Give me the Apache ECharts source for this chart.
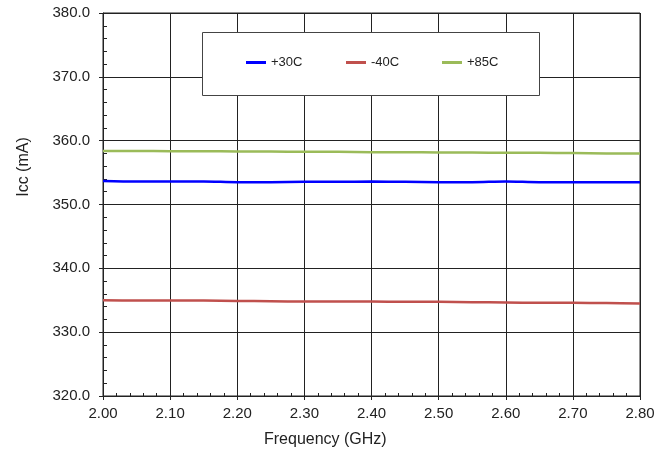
<!DOCTYPE html>
<html><head><meta charset="utf-8">
<script src="https://cdn.jsdelivr.net/npm/echarts@6/dist/echarts.min.js"></script>
<style>html,body{margin:0;padding:0;background:#fff}#c{width:668px;height:452px}</style>
</head><body><div id="c"></div>
<script>
const freq = [2.00,2.05,2.10,2.15,2.20,2.25,2.30,2.35,2.40,2.45,2.50,2.55,2.60,2.65,2.70,2.75,2.80];
const icc30 = [353.7,353.6,353.6,353.6,353.5,353.5,353.55,353.55,353.6,353.55,353.5,353.5,353.6,353.5,353.5,353.5,353.5];
const iccM40 = [335.0,334.95,334.95,334.95,334.9,334.85,334.8,334.8,334.8,334.75,334.75,334.7,334.65,334.6,334.6,334.55,334.5];
const icc85 = [358.4,358.4,358.35,358.35,358.3,358.3,358.25,358.25,358.2,358.2,358.15,358.15,358.1,358.1,358.05,358.0,358.0];
const seriesNames = ['+30C','-40C','+85C'];
const colors = ['#0000ff','#c0504d','#9bbb59'];
const font = 'Liberation Sans, Arial, sans-serif';

const chart = echarts.init(document.getElementById('c'));
function pairs(v){return freq.map((f,i)=>[f,v[i]]);}
const gridRect = {left:103,right:28,top:13,bottom:56};
const xBase = {type:'value',min:2.0,max:2.8,interval:0.1};
const yBase = {type:'value',min:320,max:380,interval:10};
chart.setOption({
  animation:false,
  grid: [
    Object.assign({show:true,borderColor:'#222',borderWidth:1},gridRect),
    Object.assign({show:false},gridRect)
  ],
  xAxis:[
    Object.assign({},xBase,{gridIndex:0,position:'bottom',
      axisLine:{show:true,onZero:false,lineStyle:{color:'#222',width:1}},
      axisTick:{show:true,length:4,lineStyle:{color:'#222'}},
      axisLabel:{color:'#222',fontSize:15,fontFamily:font,margin:10,formatter:v=>v.toFixed(2)},
      splitLine:{show:true,lineStyle:{color:'#222',width:1}}
    }),
    Object.assign({},xBase,{gridIndex:1,position:'bottom',
      axisLine:{show:false,onZero:false},axisLabel:{show:false},splitLine:{show:false},
      axisTick:{show:true,inside:true,length:3,lineStyle:{color:'#222'}},
      minorTick:{show:true,splitNumber:5,length:3,lineStyle:{color:'#222'}}
    })
  ],
  yAxis:[
    Object.assign({},yBase,{gridIndex:0,position:'left',
      axisLine:{show:true,onZero:false,lineStyle:{color:'#222',width:1}},
      axisTick:{show:true,length:4,lineStyle:{color:'#222'}},
      axisLabel:{color:'#222',fontSize:15,fontFamily:font,margin:13,formatter:v=>v.toFixed(1)},
      splitLine:{show:true,lineStyle:{color:'#222',width:1}}
    }),
    Object.assign({},yBase,{gridIndex:1,position:'left',
      axisLine:{show:false,onZero:false},axisLabel:{show:false},splitLine:{show:false},
      axisTick:{show:true,inside:true,length:4,lineStyle:{color:'#222'}},
      minorTick:{show:true,splitNumber:5,length:4,lineStyle:{color:'#222'}}
    })
  ],
  legend: seriesNames.map((n,i)=>({
    data:[n], left:[246,346,442][i], top:56, itemWidth:20, itemHeight:3, itemGap:0,
    icon:'rect', padding:0, z:80,
    textStyle:{color:'#222',fontSize:13,fontFamily:font}
  })),
  graphic:[
    {type:'rect',shape:{x:202.5,y:32.5,width:337,height:63},style:{fill:'#fff',stroke:'#444',lineWidth:1},z:50},
    {type:'text',left:264,top:432,style:{text:'Frequency (GHz)',font:'16px '+font,fill:'#222'},z:60},
    {type:'text',x:24,y:167,rotation:Math.PI/2,style:{text:'Icc (mA)',font:'16px '+font,fill:'#222',align:'center',verticalAlign:'middle'},z:60}
  ],
  series: [icc30,iccM40,icc85].map((v,i)=>({
    name:seriesNames[i], type:'line', data:pairs(v), showSymbol:false, symbol:'none',
    smooth:0.3, xAxisIndex:0, yAxisIndex:0,
    lineStyle:{color:colors[i],width:2.5}, itemStyle:{color:colors[i]}, z:10
  }))
});
</script></body></html>
